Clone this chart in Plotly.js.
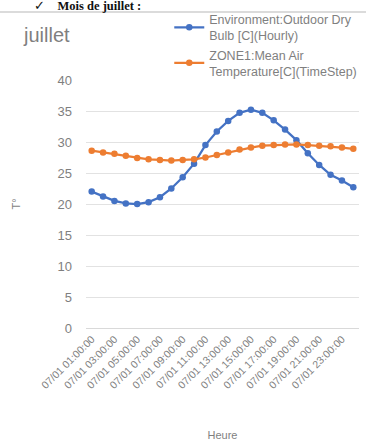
<!DOCTYPE html>
<html><head><meta charset="utf-8">
<script src="https://cdn.plot.ly/plotly-3.0.1.min.js"></script>
<style>html,body{margin:0;padding:0;background:#fff}#c{width:366px;height:443px}</style>
</head><body><div id="c"></div>
<script>
const hours = ["01","02","03","04","05","06","07","08","09","10","11","12","13","14","15","16","17","18","19","20","21","22","23","24"];
const categories = hours.map(h => "07/01  " + h + ":00:00");
const outdoorDryBulb = [22.0,21.2,20.5,20.1,20.0,20.3,21.1,22.5,24.3,26.5,29.5,31.7,33.4,34.7,35.2,34.7,33.5,32.0,30.3,28.2,26.3,24.7,23.8,22.7];
const zoneMeanAir = [28.6,28.3,28.1,27.8,27.4,27.2,27.1,27.0,27.1,27.2,27.5,27.9,28.3,28.8,29.1,29.4,29.5,29.6,29.6,29.5,29.4,29.3,29.1,28.9];
const seriesNames = ["Environment:Outdoor Dry<br>Bulb [C](Hourly)", "ZONE1:Mean Air<br>Temperature[C](TimeStep)"];
const tickIdx = [0,2,4,6,8,10,12,14,16,18,20,22];
const yTicks = [0,5,10,15,20,25,30,35,40];

const gray = "#7f7f7f";
const traces = [
  {x: categories, y: outdoorDryBulb, name: seriesNames[0], type: "scatter", mode: "lines+markers",
   line: {color: "#4472C4", width: 2.25}, marker: {color: "#4472C4", size: 6.5, symbol: "circle"}},
  {x: categories, y: zoneMeanAir, name: seriesNames[1], type: "scatter", mode: "lines+markers",
   line: {color: "#ED7D31", width: 2.25}, marker: {color: "#ED7D31", size: 6.5, symbol: "circle"}}
];
const layout = {
  width: 366, height: 443,
  margin: {l: 86, r: 7, t: 80, b: 115, autoexpand: false},
  paper_bgcolor: "#fff", plot_bgcolor: "#fff",
  font: {family: "Liberation Sans, Arial, sans-serif", color: gray, size: 11},
  title: {text: "juillet", x: 24/366, xref: "container", xanchor: "left", y: 1 - 35/443, yref: "container", yanchor: "middle",
          font: {size: 20, color: gray}},
  showlegend: true,
  legend: {x: 0.305, xanchor: "left", y: (328-4.5)/248, yanchor: "top", font: {size: 12.5, color: gray},
           bgcolor: "rgba(0,0,0,0)", tracegroupgap: 0, itemwidth: 30},
  xaxis: {type: "category", tickmode: "array", tickvals: tickIdx.map(i => categories[i]),
          ticktext: tickIdx.map(i => categories[i].replace("  ", " ")), tickangle: -45,
          tickfont: {size: 10.5, color: gray}, showgrid: false, showline: true, linecolor: "#d9d9d9",
          ticks: "", range: [-0.5, 23.5],
          title: {text: "Heure", font: {size: 11, color: gray}, standoff: 41}},
  yaxis: {range: [0, 40], tickmode: "array", tickvals: yTicks, showgrid: true, gridcolor: "#e2e2e2",
          zeroline: false, showline: false, ticks: "", tickfont: {size: 13, color: gray}, ticklabelstandoff: 13,
          title: {text: "T°", font: {size: 11, color: gray}, standoff: 34}},
  shapes: [{type: "line", xref: "paper", yref: "paper", x0: -86/273, x1: 280/273, y0: (328-12)/248, y1: (328-12)/248,
            line: {color: "#cfcfcf", width: 1.5}}],
  annotations: [{text: "✓    <b>Mois de juillet :</b>", xref: "paper", yref: "paper", x: (32-86)/273, y: (328-6)/248,
                 xanchor: "left", yanchor: "middle", showarrow: false,
                 font: {family: "Liberation Serif, serif", size: 12.5, color: "#111"}}]
};
Plotly.newPlot("c", traces, layout, {displayModeBar: false, staticPlot: true});
</script></body></html>
